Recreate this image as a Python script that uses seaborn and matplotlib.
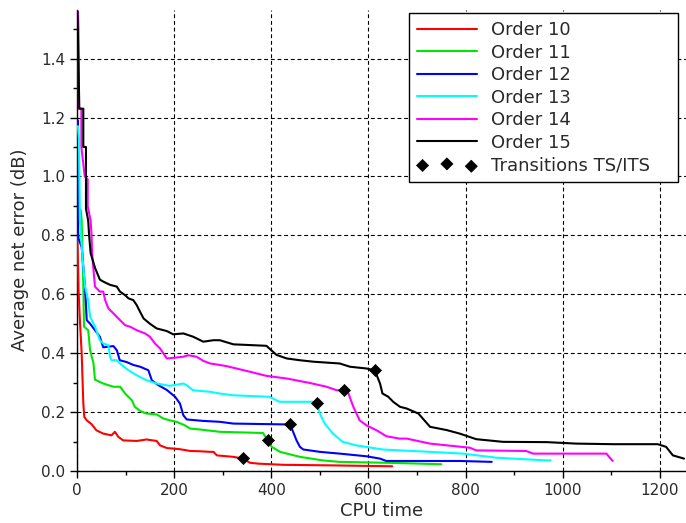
import matplotlib
matplotlib.use('Agg')
import matplotlib.pyplot as plt
from matplotlib.ticker import MultipleLocator
import pandas as pd
import seaborn as sns

# values (CPU time, average net error in dB)
red_x = [0, 1, 1, 3, 3, 6, 9.6, 13, 15, 20, 30, 40, 54, 71, 78, 85, 95, 123, 143, 164, 171, 185, 212, 233,
         253, 274, 281, 288, 322, 342, 356, 373, 425, 527, 649]
red_y = [0.82, 0.82, 0.78, 0.63, 0.62, 0.51, 0.40, 0.23, 0.184, 0.172, 0.159, 0.138, 0.127, 0.121, 0.133, 0.116,
         0.104, 0.102, 0.107, 0.102, 0.087, 0.078, 0.074, 0.068, 0.067, 0.065, 0.065, 0.053, 0.048, 0.042, 0.028,
         0.025, 0.021, 0.019, 0.016]

green_x = [0, 1, 3, 5, 7.6, 9.6, 13, 14.4, 23, 27, 34, 37, 54, 75, 89, 99, 113, 119, 130, 143, 164, 178, 191, 205,
           222, 233, 253, 294, 383, 392.6, 401, 418, 459, 506, 540, 664, 750]
green_y = [1.11, 1.11, 0.95, 0.89, 0.887, 0.85, 0.63, 0.49, 0.478, 0.41, 0.365, 0.31, 0.297, 0.286, 0.286, 0.263,
           0.24, 0.218, 0.204, 0.195, 0.192, 0.178, 0.172, 0.167, 0.155, 0.144, 0.141, 0.133, 0.129, 0.104, 0.082,
           0.065, 0.048, 0.036, 0.031, 0.027, 0.023]

blue_x = [0, 2, 2, 3, 9.6, 16.5, 20, 27, 37, 47, 54, 75, 82, 88, 102, 116, 130, 147, 154, 167, 185, 202, 212, 219,
          226, 260, 294, 322, 435, 438.5, 445, 452, 459, 466, 500, 541, 596, 624, 637, 789, 854]
blue_y = [1.19, 1.19, 0.82, 0.79, 0.76, 0.626, 0.512, 0.50, 0.478, 0.456, 0.42, 0.424, 0.41, 0.376, 0.37, 0.36,
          0.354, 0.342, 0.308, 0.292, 0.275, 0.252, 0.229, 0.189, 0.175, 0.17, 0.167, 0.161, 0.158, 0.158, 0.133,
          0.104, 0.082, 0.073, 0.065, 0.059, 0.05, 0.042, 0.034, 0.034, 0.031]

cyan_x = [0, 2, 4, 6, 11.7, 16.5, 23, 27, 37, 47, 54, 64.5, 68, 71, 82, 88.5, 106, 123, 143, 164, 191, 219, 226,
          239, 274, 294, 322, 396, 417, 485, 493.3, 500, 510, 527, 547, 575, 630, 664, 727, 795, 864, 967, 975]
cyan_y = [1.17, 1.17, 1.13, 0.85, 0.717, 0.626, 0.58, 0.524, 0.49, 0.444, 0.433, 0.427, 0.388, 0.376, 0.376,
          0.365, 0.342, 0.325, 0.308, 0.297, 0.289, 0.297, 0.291, 0.274, 0.269, 0.263, 0.257, 0.252, 0.235, 0.235,
          0.232, 0.195, 0.161, 0.127, 0.099, 0.087, 0.073, 0.07, 0.065, 0.059, 0.045, 0.036, 0.036]

magenta_x = [0, 2, 3, 4, 9, 9, 16, 22, 22, 28, 30, 31, 37, 47, 54, 58, 64.5, 75, 85, 99, 109, 123, 140, 150,
             160.5, 171, 185, 198, 219, 229, 246, 260, 274, 294, 308, 356, 390, 432, 479, 514, 535, 549.6, 559,
             569, 582, 596, 617, 637, 664, 679, 727, 809, 822, 925, 939, 1090, 1103]
magenta_y = [1.56, 1.56, 1.50, 1.23, 1.23, 1.10, 1.0, 0.99, 0.90, 0.85, 0.80, 0.74, 0.626, 0.609, 0.609, 0.58,
             0.552, 0.535, 0.518, 0.495, 0.49, 0.478, 0.467, 0.456, 0.433, 0.416, 0.382, 0.384, 0.388, 0.393, 0.388,
             0.374, 0.365, 0.36, 0.356, 0.337, 0.323, 0.314, 0.299, 0.286, 0.274, 0.274, 0.263, 0.218, 0.172, 0.155,
             0.138, 0.118, 0.11, 0.11, 0.093, 0.079, 0.07, 0.068, 0.059, 0.059, 0.034]

black_x = [0, 1, 4.8, 13, 13, 18.5, 18.5, 23, 25, 28, 37, 47, 54, 68, 82, 88.5, 99, 106, 116, 123, 130, 137, 150,
           164, 185, 198, 219, 239, 260, 281, 294, 322, 390, 400, 411, 432, 459, 487, 541, 562, 596, 613, 624, 629,
           641, 651, 665, 679, 703, 727, 761, 788, 822, 877, 967, 1028, 1104, 1196, 1213, 1227, 1250]
black_y = [1.56, 1.56, 1.23, 1.23, 1.10, 1.10, 0.89, 0.85, 0.80, 0.74, 0.69, 0.65, 0.643, 0.632, 0.626, 0.609,
           0.597, 0.586, 0.58, 0.563, 0.54, 0.518, 0.5, 0.484, 0.475, 0.464, 0.467, 0.456, 0.439, 0.444, 0.444,
           0.43, 0.425, 0.41, 0.394, 0.382, 0.376, 0.371, 0.365, 0.354, 0.348, 0.342, 0.297, 0.263, 0.252, 0.235,
           0.218, 0.212, 0.195, 0.15, 0.139, 0.127, 0.108, 0.099, 0.098, 0.093, 0.091, 0.091, 0.082, 0.053, 0.042]

trans_x = [342, 392.6, 438.5, 493.3, 549.6, 613]
trans_y = [0.043, 0.104, 0.158, 0.232, 0.274, 0.342]

labels = ['Order 10', 'Order 11', 'Order 12', 'Order 13', 'Order 14', 'Order 15']
colors = ['#ff0000', '#00e600', '#0000ff', '#00ffff', '#ff00ff', '#000000']

series = [(red_x, red_y), (green_x, green_y), (blue_x, blue_y), (cyan_x, cyan_y),
          (magenta_x, magenta_y), (black_x, black_y)]

frames = []
for lab, (xs, ys) in zip(labels, series):
    frames.append(pd.DataFrame({'cpu': xs, 'err': ys, 'order': lab}))
df = pd.concat(frames, ignore_index=True)
trans = pd.DataFrame({'cpu': trans_x, 'err': trans_y})

sns.set_theme(style='white')
plt.rcParams['font.family'] = ['DejaVu Sans']
text_col = '#2a2a2a'

fig = plt.figure(figsize=(6.86, 5.23), dpi=100)
ax = fig.add_axes([77 / 686, 52 / 523, 609 / 686, 461 / 523])

for lab, col in zip(labels, colors):
    sns.lineplot(data=df[df['order'] == lab], x='cpu', y='err', sort=False, estimator=None,
                 color=col, lw=1.5, label=lab, ax=ax, zorder=3)
sns.scatterplot(data=trans, x='cpu', y='err', marker='D', s=38, color='black', edgecolor='black',
                label='Transitions TS/ITS', ax=ax, zorder=4)

ax.set_xlim(0, 1254)
ax.set_ylim(0, 1.565)
ax.xaxis.set_major_locator(MultipleLocator(200))
ax.xaxis.set_minor_locator(MultipleLocator(100))
ax.yaxis.set_major_locator(MultipleLocator(0.2))
ax.yaxis.set_minor_locator(MultipleLocator(0.1))
ax.yaxis.set_major_formatter(matplotlib.ticker.FormatStrFormatter('%.1f'))

ax.grid(True, which='major', color='black', lw=0.8, linestyle=(0, (3.5, 2.5)))
ax.set_axisbelow(True)
for side in ['top', 'right']:
    ax.spines[side].set_visible(False)
for side in ['left', 'bottom']:
    ax.spines[side].set_color('black')
    ax.spines[side].set_linewidth(1.0)

ax.tick_params(which='major', direction='out', length=5, width=1, color='black',
               labelsize=11, labelcolor=text_col, left=True, bottom=True)
ax.tick_params(which='minor', direction='out', length=3, width=1, color='black', left=True, bottom=True)

ax.set_xlabel('CPU time', fontsize=13, color=text_col, labelpad=3)
ax.set_ylabel('Average net error (dB)', fontsize=13, color=text_col)
ax.yaxis.set_label_coords(-0.079, 0.48)

# legend box spans x 409..678 px, top at 13 px
leg_box = (409 / 686, 1 - 181 / 523, (678 - 409) / 686, (181 - 13) / 523)
leg = ax.legend(loc='upper left', bbox_to_anchor=leg_box, bbox_transform=fig.transFigure, mode='expand',
                fontsize=13, frameon=True, fancybox=False, shadow=False, borderaxespad=0,
                handlelength=3.3, handletextpad=0.8, labelspacing=0.25, borderpad=0.45,
                scatterpoints=3, framealpha=1)
leg.get_frame().set_edgecolor('black')
leg.get_frame().set_linewidth(1.0)
for t in leg.get_texts():
    t.set_color(text_col)

fig.savefig('out.png', dpi=100)
